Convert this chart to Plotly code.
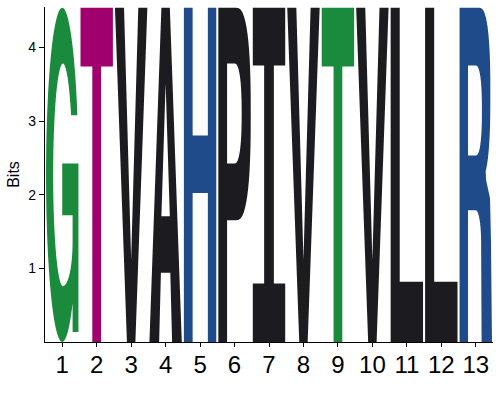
import math
import plotly.graph_objects as go

# ---- data ----
positions = list(range(1, 14))
tick_labels = [str(p) for p in positions]
letters = ["G", "T", "V", "A", "H", "P", "I", "V", "T", "V", "L", "L", "R"]
heights = [4.54] * 13
colors = ["#1a8a3c", "#a0006e", "#1c1b1f", "#1c1b1f", "#1f4b8b", "#1c1b1f",
          "#1c1b1f", "#1c1b1f", "#1a8a3c", "#1c1b1f", "#1c1b1f", "#1c1b1f", "#1f4b8b"]
y_max = 4.55
letter_width = 0.94


# ---- glyph outlines in unit box (u: 0..1 across, v: 0..1 up) ----
def arc(cx, cy, rx, ry, a0, a1, n=28, p=2.0):
    pts = []
    for i in range(n + 1):
        a = math.radians(a0 + (a1 - a0) * i / n)
        c, s = math.cos(a), math.sin(a)
        cu = math.copysign(abs(c) ** (2.0 / p), c)
        sv = math.copysign(abs(s) ** (2.0 / p), s)
        pts.append((cx + rx * cu, cy + ry * sv))
    return pts


def glyph(ch):
    if ch == "T":
        return [[(0, 1), (1, 1), (1, 0.824), (0.635, 0.824), (0.635, 0),
                 (0.365, 0), (0.365, 0.824), (0, 0.824)]]
    if ch == "V":
        return [[(0, 1), (0.28, 1), (0.5, 0.245), (0.72, 1), (1, 1),
                 (0.63, 0), (0.37, 0)]]
    if ch == "A":
        return [[(0, 0), (0.37, 1), (0.63, 1), (1, 0), (0.7, 0), (0.645, 0.207),
                 (0.355, 0.207), (0.3, 0)],
                [(0.5, 0.773), (0.37, 0.376), (0.63, 0.376)]]
    if ch == "H":
        return [[(0, 0), (0, 1), (0.27, 1), (0.27, 0.618), (0.74, 0.618), (0.74, 1),
                 (1, 1), (1, 0), (0.74, 0), (0.74, 0.446), (0.27, 0.446), (0.27, 0)]]
    if ch == "L":
        return [[(0, 0), (0, 1), (0.28, 1), (0.28, 0.18), (1, 0.18), (1, 0)]]
    if ch == "I":
        return [[(0, 0), (0, 0.175), (0.35, 0.175), (0.35, 0.827), (0, 0.827), (0, 1),
                 (1, 1), (1, 0.827), (0.65, 0.827), (0.65, 0.175), (1, 0.175), (1, 0)]]
    if ch == "P":
        outer = [(0, 0), (0, 1), (0.55, 1)] + arc(0.55, 0.682, 0.45, 0.318, 90, -90, p=2.6) + \
                [(0.27, 0.364), (0.27, 0)]
        hole = [(0.27, 0.534), (0.27, 0.833), (0.5, 0.833)] + \
               arc(0.5, 0.6835, 0.22, 0.1495, 90, -90, p=2.4)
        return [outer, hole]
    if ch == "R":
        outer = [(0, 0), (0, 1), (0.6, 1)] + arc(0.6, 0.742, 0.35, 0.258, 90, -60, p=2.6) + \
                [(0.82, 0.484), (0.94, 0.43), (0.97, 0.3), (1.0, 0), (0.68, 0), (0.665, 0.3)] + \
                arc(0.5, 0.3, 0.165, 0.094, 0, 90, n=10) + [(0.26, 0.394), (0.26, 0)]
        hole = [(0.26, 0.558), (0.26, 0.827), (0.5, 0.827)] + \
               arc(0.5, 0.6925, 0.19, 0.1345, 90, -90, p=2.4)
        return [outer, hole]
    if ch == "G":
        a_arm = math.degrees(math.asin((0.678 - 0.5) / 0.5))
        a_bot = 360 - math.degrees(math.acos((0.82 - 0.5) / 0.5))
        a_in = math.degrees(math.asin((0.678 - 0.5) / 0.333))
        pts = arc(0.5, 0.5, 0.5, 0.5, a_arm, a_bot, n=60)
        pts += [(0.82, 0.03), (1.0, 0.03), (1.0, 0.534), (0.5, 0.534), (0.5, 0.379),
                (0.82, 0.379), (0.82, 0.30)]
        pts += arc(0.52, 0.30, 0.30, 0.133, 0, -90, n=14)
        pts += arc(0.52, 0.5, 0.30, 0.333, -90, -360 + a_in, n=40)
        return [pts]
    return []


def signed_area(poly):
    s = 0.0
    for i in range(len(poly)):
        x1, y1 = poly[i]
        x2, y2 = poly[(i + 1) % len(poly)]
        s += x1 * y2 - x2 * y1
    return s / 2


def letter_path(ch, pos, h):
    parts = []
    for k, poly in enumerate(glyph(ch)):
        a = signed_area(poly)
        if (k == 0 and a < 0) or (k > 0 and a > 0):
            poly = poly[::-1]
        x0 = pos - letter_width / 2
        seg = ["%s%.4f,%.4f" % ("M" if i == 0 else "L", x0 + u * letter_width, v * h)
               for i, (u, v) in enumerate(poly)]
        parts.append(" ".join(seg) + " Z")
    return " ".join(parts)


shapes = [dict(type="path", path=letter_path(ch, p, h), xref="x", yref="y",
               fillcolor=c, line=dict(width=0), layer="above")
          for ch, p, h, c in zip(letters, positions, heights, colors)]

fig = go.Figure()
fig.add_trace(go.Scatter(x=positions, y=[0] * len(positions), mode="markers",
                         marker=dict(opacity=0), hoverinfo="skip", showlegend=False))
fig.update_layout(
    width=500, height=400,
    margin=dict(l=45, r=7, t=7, b=58),
    paper_bgcolor="white", plot_bgcolor="white",
    shapes=shapes,
    font=dict(family="Liberation Sans, Arial, sans-serif", color="black"),
    xaxis=dict(range=[0.5, 13.5], tickvals=positions, ticktext=tick_labels,
               automargin=False,
               showgrid=False, zeroline=False, showline=True, linecolor="black",
               linewidth=1.3, ticks="outside", ticklen=4, tickcolor="black",
               ticklabelstandoff=-3,
               tickfont=dict(size=24)),
    yaxis=dict(range=[0, y_max], tickvals=[1, 2, 3, 4], showgrid=False, zeroline=False,
               automargin=False,
               showline=True, linecolor="black", linewidth=1.3, ticks="outside",
               ticklen=5, tickcolor="black", tickfont=dict(size=14),
               title=dict(text="Bits", font=dict(size=16), standoff=4)),
)
fig.write_html("out.html", config={"displayModeBar": False},
               post_script="document.body.style.margin='0';")
